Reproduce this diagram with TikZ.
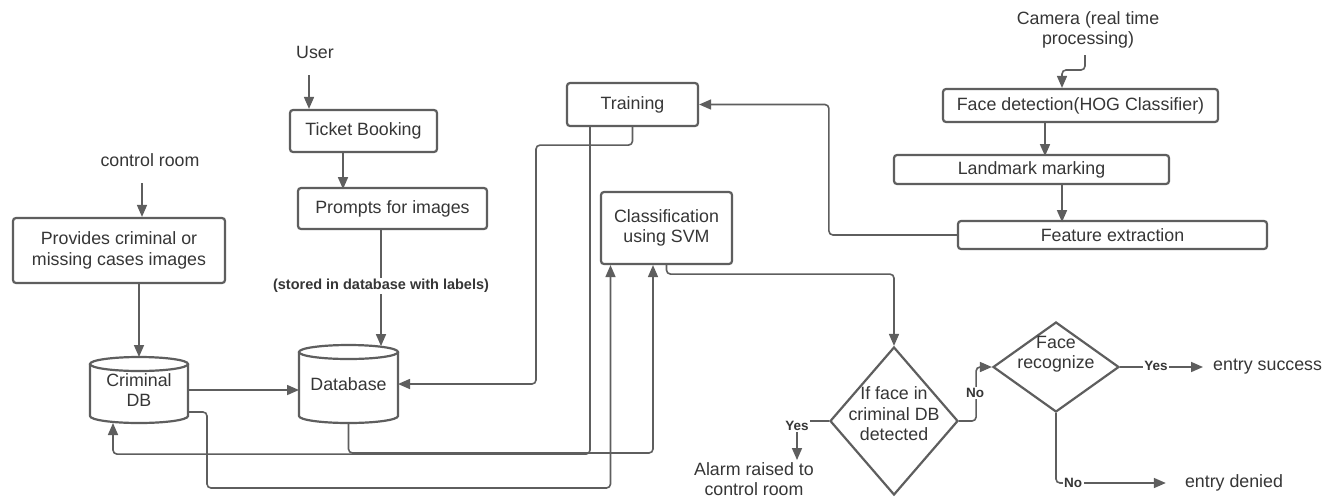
\documentclass[tikz,border=0pt]{standalone}
\usepackage{fontspec}
\setmainfont{Liberation Sans}
\usetikzlibrary{arrows.meta,shapes.geometric,calc}
\definecolor{inkc}{HTML}{5E5E5E}
\definecolor{txtc}{HTML}{363636}
\tikzset{
  every node/.style={text=txtc, font=\fontsize{17.8}{20.5}\selectfont},
  box/.style={draw=inkc, line width=2.2pt, rounded corners=3pt, inner sep=0pt, align=center},
  lbl/.style={align=center, inner sep=0pt},
  tag/.style={font=\fontsize{13.5}{15}\selectfont\bfseries, fill=white, inner sep=1.5pt},
  conn/.style={draw=inkc, line width=1.6pt, rounded corners=4pt},
  flow/.style={conn, -{Triangle[length=12pt,width=10pt]}},
  decide/.style={diamond, draw=inkc, line width=2.2pt, inner sep=0pt},
  store/.style={inner sep=0pt, outer sep=0pt, align=center},
  cylline/.style={draw=inkc, line width=2.2pt}
}
% database symbol drawn around a named store node: #1 name, #2 half width
\newcommand\dbcyl[2]{%
  \draw[cylline] ([yshift=-7pt]#1.north west) -- ([yshift=7pt]#1.south west)
    arc[start angle=180,end angle=360,x radius=#2,y radius=7pt]
    -- ([yshift=-7pt]#1.north east);
  \draw[cylline] ([yshift=-7pt]#1.north) ellipse[x radius=#2,y radius=7pt];
}
\begin{document}
\begin{tikzpicture}[x=1pt,y=1pt]
\clip (0,0) rectangle (1327,-499);
\fill[white] (0,0) rectangle (1327,-499);

% ---- left column: control room
\node[lbl] (ctrl) at (150,-160) {control room};
\node[box, minimum width=212pt, minimum height=65pt] (provides) at (119,-250.5)
  {Provides criminal or\\missing cases images};
\node[store, minimum width=98pt, minimum height=66pt] (crim) at (139,-390) {Criminal\\DB};
\dbcyl{crim}{49pt}

% ---- user column
\node[lbl] (user) at (315,-52) {User};
\node[box, minimum width=147pt, minimum height=42pt] (ticket) at (363.5,-131) {Ticket Booking};
\node[box, minimum width=189pt, minimum height=41pt] (prompts) at (392.5,-208.5) {Prompts for images};
\node[store, minimum width=99pt, minimum height=78pt] (db) at (348.5,-384) {\raisebox{-6pt}{Database}};
\dbcyl{db}{49.5pt}

% ---- model
\node[box, minimum width=131pt, minimum height=43pt] (training) at (632.5,-104.5) {Training};
\node[box, minimum width=131pt, minimum height=72pt] (classif) at (666.5,-228) {Classification\\using SVM};

% ---- camera pipeline
\node[lbl] (camera) at (1088,-30) {Camera (real time\\processing)};
\node[box, minimum width=275pt, minimum height=33pt] (facedet) at (1080.5,-105.5) {Face detection(HOG Classifier)};
\node[box, minimum width=275pt, minimum height=29pt] (landmark) at (1031.5,-169.5) {Landmark marking};
\node[box, minimum width=309pt, minimum height=28pt] (feature) at (1112.5,-235) {Feature extraction};

% ---- decisions
\node[decide, minimum width=128pt, minimum height=148pt] (d1) at (894,-421) {};
\node[lbl] (d1txt) at (894,-414) {If face in\\criminal DB\\detected};
\node[decide, minimum width=126pt, minimum height=90pt] (d2) at (1056,-367) {};
\node[lbl] (d2txt) at (1056,-354) {Face\\recognize};
\node[lbl] (alarm) at (754,-479) {Alarm raised to\\control room};
\node[lbl, anchor=west] (success) at (1213,-367) {entry success};
\node[lbl] (denied) at (1234,-483) {entry denied};

% ---- connectors
\coordinate (ctrlout) at (142,-183);
\draw[flow] (ctrlout) -- (ctrlout |- provides.north);
\draw[flow] (crim.north |- provides.south) -- (crim.north);
\draw[flow] (crim.east) -- (crim.east -| db.west);
\draw[flow] ([yshift=-22pt]crim.east) -- ++(19,0) -- ++(0,-76) -| ([xshift=-56pt]classif.south);
\draw[flow] (db.south) -- ++(0,-30) -| ([xshift=-13.5pt]classif.south);
\draw[flow] ([xshift=-42.5pt]training.south) -- ++(0,-327) -| ([xshift=-26pt]crim.south);
\draw[flow] (training.south) -- ++(0,-18) -| ($(db.east)+(138,0)$) -- (db.east);
\draw[flow] (feature.west) -- ++(-128,0) |- (training.east);

\coordinate (camout) at (1085,-55);
\draw[flow] (camout) -- ++(0,-15) -| ([xshift=-18.5pt]facedet.north);
\draw[flow] ([xshift=-35.5pt]facedet.south) -- ++(0,-33);
\draw[flow] ([xshift=30.5pt]landmark.south) -- ++(0,-37);

\coordinate (userout) at (309,-75);
\draw[flow] (userout) -- (userout |- ticket.north);
\draw[flow] ([xshift=-20.5pt]ticket.south) -- ++(0,-36);
\draw[flow] ([xshift=-11.5pt]prompts.south) -- ++(0,-116);
\node[tag, font=\fontsize{14.5}{16}\selectfont\bfseries] (stored) at (381,-286) {(stored in database with labels)};

\draw[flow] (classif.south) -- ++(0,-9) -| (d1.north);
\draw[flow] (d1.west) -| ([xshift=43pt,yshift=2pt]alarm.north);
\node[tag] (yes1) at (797,-426) {Yes};
\draw[flow] (d1.east) -- ++(17,0) |- (d2.west);
\node[tag] (no1) at (975,-393) {No};
\draw[flow] (d2.east) -- ([xshift=-10pt]success.west);
\node[tag] (yes2) at (1156,-366) {Yes};
\draw[flow] (d2.south) |- ([xshift=-19pt]denied.west);
\node[tag] (no2) at (1073,-483) {No};
\end{tikzpicture}
\end{document}
